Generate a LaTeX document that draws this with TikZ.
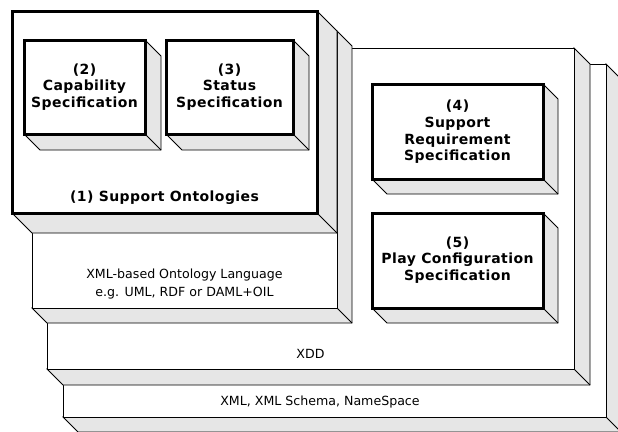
\documentclass[tikz,border=0pt]{standalone}
\usepackage{fontspec}
\setmainfont{DejaVu Sans}
\newfontfamily\lblbold{DejaVu Sans}[LetterSpace=3]
\definecolor{sidegray}{HTML}{E6E6E6}
\tikzset{
  x=1pt, y=-1pt,
  sideface/.style={fill=sidegray, draw=black, line width=0.8pt, line join=miter},
  thinface/.style={fill=white, draw=black, line width=0.8pt},
  thickface/.style={fill=white, draw=black, line width=3pt},
  lbl/.style={align=center, inner sep=0pt, font=\fontsize{12.6}{17.5}\selectfont},
  blbl/.style={align=center, inner sep=0pt, font=\fontsize{14}{16.7}\selectfont\lblbold\bfseries},
}
% x1, y1, x2, y2, depth, front style
\newcommand\boxthreed[6]{%
  \filldraw[sideface] (#3,#2) -- (#3+#5,#2+#5) -- (#3+#5,#4+#5) -- (#1+#5,#4+#5) -- (#1,#4) -- (#3,#4) -- cycle;
  \draw[line width=0.8pt] (#3,#4) -- (#3+#5,#4+#5);
  \draw[#6] (#1,#2) rectangle (#3,#4);
}
\begin{document}
\begin{tikzpicture}
\clip (0,0) rectangle (618,431);
\fill[white] (0,0) rectangle (618,431);
% layers, back to front
\boxthreed{63}{64}{606}{417}{15}{thinface}
\boxthreed{47}{48}{574}{369}{16}{thinface}
\boxthreed{32}{31}{337}{308}{15}{thinface}
\boxthreed{12}{11}{317}{213}{20}{thickface}
% inner boxes
\boxthreed{24}{40}{145}{134}{16}{thickface}
\boxthreed{166}{40}{293}{134}{16}{thickface}
\boxthreed{372}{84}{543}{179}{15}{thickface}
\boxthreed{372}{213}{543}{308}{15}{thickface}
% texts
\node[blbl] (t2) at (84.5,87) {(2)\\Capability\\Specification};
\node[blbl] (t3) at (229.5,87) {(3)\\Status\\Specification};
\node[blbl] (t1) at (164.5,198) {(1) Support Ontologies};
\node[blbl] (t4) at (457.5,132) {(4)\\Support\\Requirement\\Specification};
\node[blbl] (t5) at (457.5,260) {(5)\\Play Configuration\\Specification};
\node[lbl] (tb) at (184.5,284) {XML-based Ontology Language\\e.g. UML, RDF or DAML+OIL};
\node[lbl] (txdd) at (310.5,354) {XDD};
\node[lbl] (txml) at (320,402) {XML, XML Schema, NameSpace};
\end{tikzpicture}
\end{document}
